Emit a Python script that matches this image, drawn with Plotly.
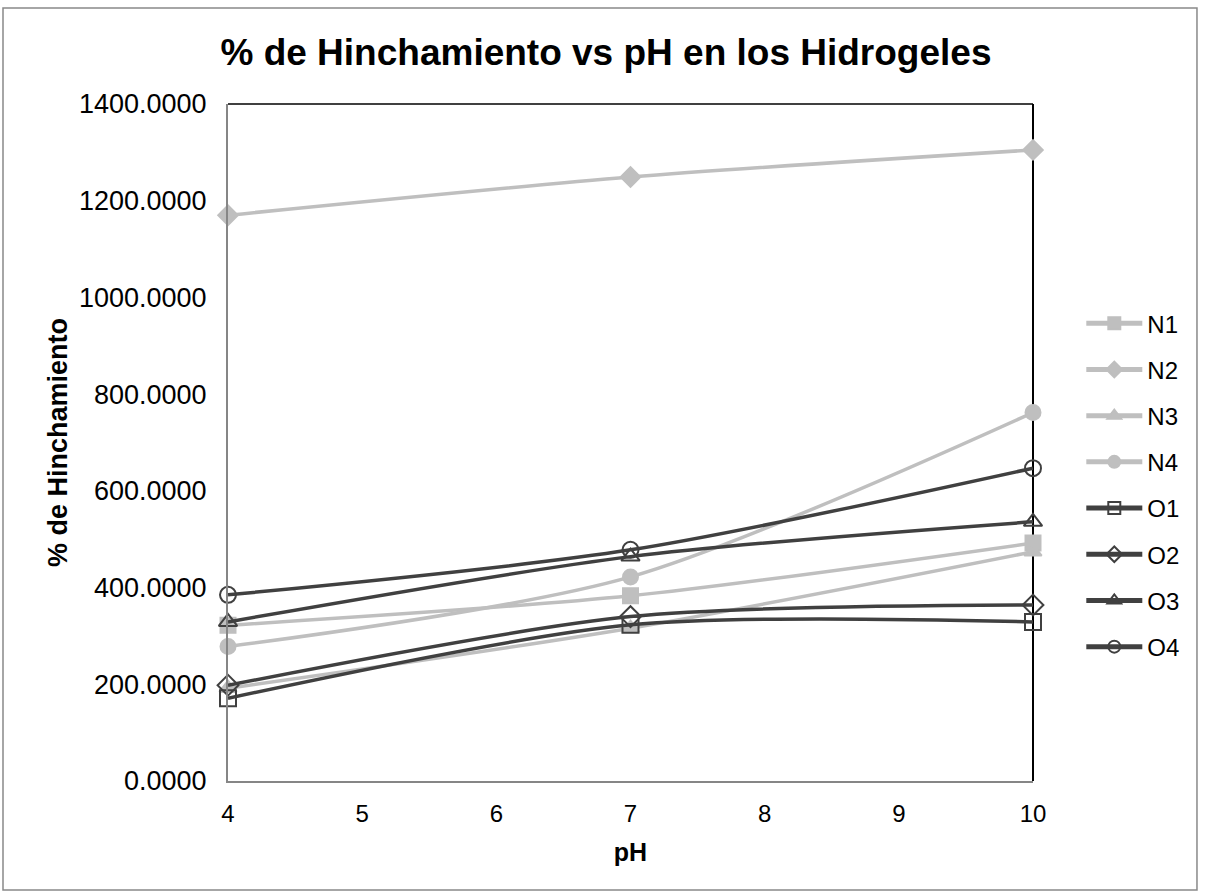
import plotly.graph_objects as go

# pH values and swelling (%) per hydrogel
ph = [4, 7, 10]
N1 = [322, 383, 492]
N2 = [1170, 1249, 1305]
N3 = [192, 316, 474]
N4 = [278, 422, 762]
O1 = [171, 323, 329]
O2 = [198, 340, 364]
O3 = [329, 464, 536]
O4 = [385, 478, 647]

names = ["N1", "N2", "N3", "N4", "O1", "O2", "O3", "O4"]
values = [N1, N2, N3, N4, O1, O2, O3, O4]

LIGHT = "#BFBFBF"
DARK = "#404040"
styles = {
    "N1": dict(symbol="square", color=LIGHT, size=15),
    "N2": dict(symbol="diamond", color=LIGHT, size=15),
    "N3": dict(symbol="triangle-up", color=LIGHT, size=15),
    "N4": dict(symbol="circle", color=LIGHT, size=15),
    "O1": dict(symbol="square-open", color=DARK, size=16),
    "O2": dict(symbol="diamond-open", color=DARK, size=16),
    "O3": dict(symbol="triangle-up-open", color=DARK, size=16),
    "O4": dict(symbol="circle-open", color=DARK, size=16),
}

fig = go.Figure()
for name, vals in zip(names, values):
    st = styles[name]
    fig.add_trace(go.Scatter(
        x=ph, y=vals, name=name, legendgroup=name,
        mode="lines+markers",
        line=dict(color=st["color"], width=3.5, shape="spline", smoothing=0.8),
        marker=dict(symbol=st["symbol"], size=st["size"], color=st["color"],
                    line=dict(color=st["color"], width=2)),
        cliponaxis=False,
    ))

FONT = "Liberation Sans, Arial, sans-serif"
AXIS_GRAY = "#868686"

fig.update_layout(
    width=1205, height=895,
    margin=dict(l=228, r=172, t=104, b=114),
    paper_bgcolor="white", plot_bgcolor="white",
    font=dict(family=FONT, color="black", size=24),
    title=dict(text="<b>% de Hinchamiento vs pH en los Hidrogeles</b>",
               x=606 / 1205, xref="container", xanchor="center",
               y=1 - 52 / 895, yref="container", yanchor="middle",
               font=dict(size=37, family=FONT, color="black")),
    showlegend=True,
    legend=dict(x=1.06, xanchor="left", y=0.437, yanchor="middle",
                font=dict(size=24, family=FONT, color="black"),
                tracegroupgap=12, bgcolor="rgba(0,0,0,0)",
                itemwidth=56, itemsizing="constant"),
    xaxis=dict(range=[4, 10], dtick=1, tick0=4,
               showline=True, linecolor=AXIS_GRAY, linewidth=2,
               showgrid=False, zeroline=False, ticks="",
               tickfont=dict(size=24), ticklabelstandoff=10,
               title=dict(text="<b>pH</b>", font=dict(size=25), standoff=18)),
    yaxis=dict(range=[0, 1400], dtick=200, tickformat=".4f",
               showline=True, linecolor=AXIS_GRAY, linewidth=2,
               showgrid=False, zeroline=False, ticks="",
               tickfont=dict(size=27), ticklabelstandoff=14,
               title=dict(text="<b>% de Hinchamiento</b>", font=dict(size=27), standoff=4)),
)

# plot frame: top and right edges
fig.add_shape(type="line", xref="paper", yref="paper", x0=0, x1=1, y0=1, y1=1,
              line=dict(color="black", width=1.5), layer="below")
fig.add_shape(type="line", xref="paper", yref="paper", x0=1, x1=1, y0=0, y1=1,
              line=dict(color="black", width=2), layer="below")
# outer chart border
fig.add_shape(type="rect", xref="paper", yref="paper",
              x0=-0.2795, x1=1.2037, y0=-0.1611, y1=1.1418,
              line=dict(color="#898989", width=1.5), layer="below")

fig.write_html("out.html")
